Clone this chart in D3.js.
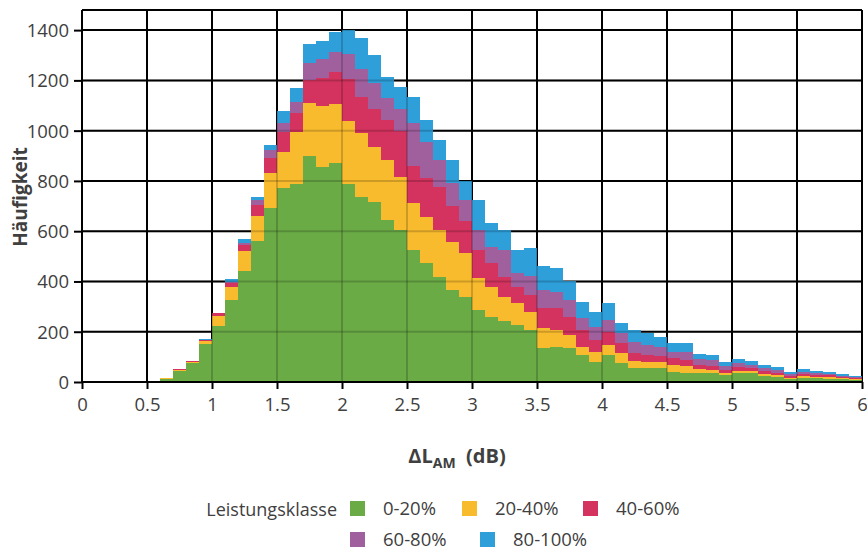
<!DOCTYPE html>
<html><head><meta charset="utf-8">
<script src="https://cdn.jsdelivr.net/npm/d3@7"></script>
<style>
body{margin:0;background:#fff;}
text{font-family:"Open Sans","Noto Sans",sans-serif;fill:#404040;}
</style></head>
<body>
<svg id="chart" width="867" height="551"></svg>
<script>
// ---- data ----
const binStart = [0.0,0.1,0.2,0.3,0.4,0.5,0.6,0.7,0.8,0.9,1.0,1.1,1.2,1.3,1.4,1.5,1.6,1.7,1.8,1.9,
  2.0,2.1,2.2,2.3,2.4,2.5,2.6,2.7,2.8,2.9,3.0,3.1,3.2,3.3,3.4,3.5,3.6,3.7,3.8,3.9,
  4.0,4.1,4.2,4.3,4.4,4.5,4.6,4.7,4.8,4.9,5.0,5.1,5.2,5.3,5.4,5.5,5.6,5.7,5.8,5.9];
const binWidth = 0.1;
const seriesNames = ["0-20%","20-40%","40-60%","60-80%","80-100%"];
const seriesColors = ["#6aab46","#f8bb2d","#d5335f","#a0609e","#2e9fd9"];
const s0_20 = [0,0,0,1,2,4,13,42,74,152,223,326,443,562,691,770,786,899,857,870,
  788,737,717,644,605,525,472,419,366,339,286,258,243,226,205,134,140,134,107,81,
  107,74,54,54,54,41,37,34,34,28,34,34,24,21,13,17,15,13,11,9];
const s20_40 = [0,0,0,0,0,1,1,5,6,11,41,52,78,98,142,146,210,212,241,236,
  252,252,219,239,212,186,186,186,192,173,126,121,96,87,75,80,67,53,33,40,
  40,40,31,27,27,27,27,16,14,9,10,10,8,7,4,7,6,5,3,3];
const s40_60 = [0,0,0,0,0,0,1,3,2,4,9,14,23,44,57,80,73,90,110,128,
  167,146,149,159,182,149,152,172,142,130,113,93,80,66,66,79,86,73,67,46,
  53,40,29,26,22,26,24,18,16,11,14,10,12,9,7,8,6,8,4,4];
const s60_80 = [0,0,0,0,0,0,0,1,1,1,2,7,10,20,33,36,46,69,76,79,
  96,110,103,86,86,170,146,106,90,82,80,66,106,53,76,73,66,66,46,50,
  47,40,46,40,35,27,33,22,24,16,16,14,10,11,8,9,7,6,6,4];
const s80_100 = [0,0,0,0,0,0,0,1,1,2,1,9,13,11,21,45,53,74,74,78,
  97,122,113,87,90,102,86,80,93,77,119,93,80,93,110,95,93,77,64,60,
  66,42,47,49,40,33,33,21,19,17,16,17,14,10,9,11,11,9,8,5];
const yTicks = [0,200,400,600,800,1000,1200,1400];
const xTicks = [0,0.5,1,1.5,2,2.5,3,3.5,4,4.5,5,5.5,6];
const xTickLabels = ["0","0.5","1","1.5","2","2.5","3","3.5","4","4.5","5","5.5","6"];
const yTitle = "Häufigkeit";
const legendTitle = "Leistungsklasse";

// ---- layout ----
const L = 82, R = 862, T = 10, B = 382;
const svg = d3.select("#chart");
const x = d3.scaleLinear().domain([0,6]).range([L,R]);
const y = d3.scaleLinear().domain([0,1480]).range([B,T]);

const table = binStart.map((b,i)=>({bin:b, "0-20%":s0_20[i], "20-40%":s20_40[i], "40-60%":s40_60[i], "60-80%":s60_80[i], "80-100%":s80_100[i]}));
const stacked = d3.stack().keys(seriesNames)(table);

function grid(g, opacity){
  g.selectAll("line.v").data(xTicks).join("line").attr("class","v")
    .attr("x1",d=>x(d)).attr("x2",d=>x(d)).attr("y1",T).attr("y2",B)
    .attr("stroke","#000").attr("stroke-width",2).attr("stroke-opacity",opacity);
  g.selectAll("line.h").data(yTicks.concat([1480])).join("line").attr("class","h")
    .attr("x1",L).attr("x2",R).attr("y1",d=>y(d)).attr("y2",d=>y(d))
    .attr("stroke","#000").attr("stroke-width",2).attr("stroke-opacity",opacity);
}
grid(svg.append("g"),1);

// bars
svg.append("g").selectAll("g").data(stacked).join("g")
  .attr("fill",(d,i)=>seriesColors[i])
  .selectAll("rect").data(d=>d).join("rect")
  .attr("x",d=>x(d.data.bin))
  .attr("width",d=>x(d.data.bin+binWidth)-x(d.data.bin))
  .attr("y",d=>y(d[1]))
  .attr("height",d=>Math.max(0,y(d[0])-y(d[1])))
  .attr("shape-rendering","crispEdges");

// faint grid over bars
grid(svg.append("g"),0.18);

svg.append("line").attr("x1",L).attr("x2",R).attr("y1",B).attr("y2",B).attr("stroke","#000").attr("stroke-width",2);
svg.append("line").attr("x1",L).attr("x2",L).attr("y1",T).attr("y2",B).attr("stroke","#000").attr("stroke-width",2);

// axes
const yAxis = d3.axisLeft(y).tickValues(yTicks).tickSize(8).tickPadding(5).tickFormat(d3.format("d"));
const gy = svg.append("g").attr("transform",`translate(${L},0)`).call(yAxis);
gy.select(".domain").remove();
gy.selectAll(".tick line").attr("stroke","#000").attr("stroke-width",2);
gy.selectAll(".tick text").style("font-size","18.5px").attr("fill","#404040").attr("dy","0.35em");

const xAxis = d3.axisBottom(x).tickValues(xTicks).tickSize(7).tickPadding(9).tickFormat((d,i)=>xTickLabels[i]);
const gx = svg.append("g").attr("transform",`translate(0,${B})`).call(xAxis);
gx.select(".domain").remove();
gx.selectAll(".tick line").attr("stroke","#000").attr("stroke-width",2);
gx.selectAll(".tick text").style("font-size","18.5px").attr("fill","#404040");

// titles
svg.append("text").attr("transform","translate(27,197) rotate(-90)")
  .attr("text-anchor","middle").style("font-size","19px").style("font-weight","bold").text(yTitle);

const xt = svg.append("text").attr("x",457).attr("y",463).attr("text-anchor","middle")
  .style("font-size","20px").style("font-weight","bold");
xt.append("tspan").text("ΔL");
xt.append("tspan").attr("dy",5).style("font-size","14px").text("AM");
xt.append("tspan").attr("dy",-5).attr("xml:space","preserve").text("  (dB)");

// legend
svg.append("text").attr("x",337).attr("y",516).attr("text-anchor","end").style("font-size","18px").text(legendTitle);
const legPos = [[350,501],[462,501],[583,501],[350,532],[480,532]];
const lg = svg.append("g").selectAll("g").data(seriesNames).join("g")
  .attr("transform",(d,i)=>`translate(${legPos[i][0]},${legPos[i][1]})`);
lg.append("rect").attr("width",15).attr("height",15).attr("fill",(d,i)=>seriesColors[i]);
lg.append("text").attr("x",33).attr("y",14).style("font-size","18.5px").text(d=>d);
</script>
</body></html>
